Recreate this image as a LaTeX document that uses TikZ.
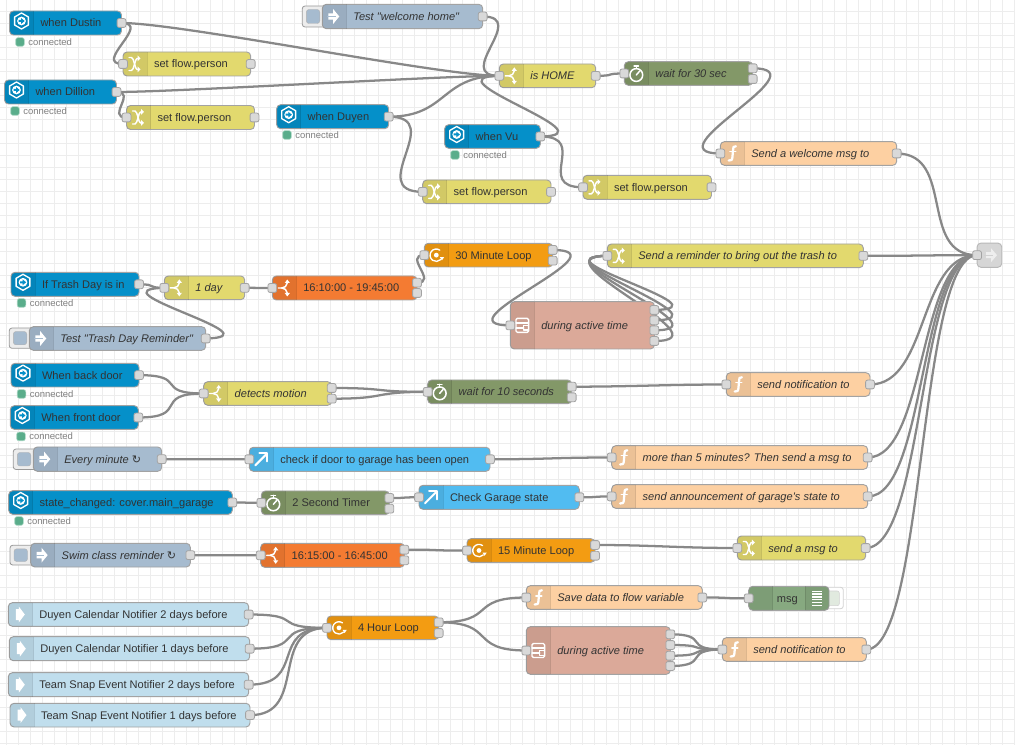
\documentclass[tikz,border=0pt]{standalone}
\usepackage{fontspec}
\newfontfamily\nrfont{Liberation Sans}
\newfontfamily\symf{DejaVu Sans}
\usetikzlibrary{calc}
\pgfdeclarelayer{wires}
\pgfsetlayers{wires,main}
\definecolor{cha}{HTML}{0590C9}
\definecolor{cinj}{HTML}{A6BBCF}
\definecolor{csw}{HTML}{E2D96E}
\definecolor{cfn}{HTML}{FDD0A2}
\definecolor{cdel}{HTML}{839868}
\definecolor{cloop}{HTML}{F39C12}
\definecolor{ctime}{HTML}{F47B32}
\definecolor{chttp}{HTML}{51BCF1}
\definecolor{ccal}{HTML}{C0DEED}
\definecolor{ctpl}{HTML}{DBA999}
\definecolor{cdbg}{HTML}{87A980}
\definecolor{clink}{HTML}{D6D6D6}
\definecolor{cwire}{HTML}{888888}
\definecolor{cdot}{HTML}{5AAD8B}
\definecolor{cdotl}{HTML}{B5DCCB}
\tikzset{
  nrbox/.style={draw=black!36,line width=.7pt,rounded corners=3pt,inner sep=0pt,outer sep=0pt},
  nrtext/.style={inner sep=0pt,outer sep=0pt,text=black!80,text height=6.75pt,text depth=.75pt,font=\nrfont\fontsize{8.3pt}{10pt}\selectfont},
  porty/.style={draw=black!36,fill=black!15,line width=.6pt,rounded corners=1.5pt,minimum width=6.6pt,minimum height=6.6pt,inner sep=0pt,outer sep=0pt},
  wirel/.style={draw=cwire,line width=1.7pt},
  gridl/.style={draw=black!7,line width=.85pt},
  statdot/.style={fill=cdot,draw=cdotl,line width=.4pt,rounded corners=1.5pt,minimum width=6.4pt,minimum height=6.4pt,inner sep=0pt,outer sep=0pt},
  stattext/.style={inner sep=0pt,outer sep=0pt,anchor=west,text=black!50,font=\nrfont\fontsize{7.1pt}{9pt}\selectfont},
  ic/.style={draw=white,line width=1.1pt,line cap=round,line join=round},
  icf/.style={fill=white},
  tabf/.style={fill=black,fill opacity=.07},
  tabl/.style={draw=black,draw opacity=.1,line width=.5pt},
}
% icons (pixel units round the centre of the tab)
\newcommand\iconha{\begin{scope}[yshift=1.5pt]
  \draw[ic,line width=1pt] (0,-8)--(6.9,-4)--(6.9,4)--(0,8)--(-6.9,4)--(-6.9,-4)--cycle;
  \fill[icf] (0,0) circle (4.4);
  \fill[\thecol] (-3,-1)--(-.3,-1)--(-.3,-2.8)--(3.2,0)--(-.3,2.8)--(-.3,1)--(-3,1)--cycle;\end{scope}}
\newcommand\iconinj{\fill[icf] (-6,-3.2)--(-1.2,-3.2)--(-1.2,-7.5)--(5,0)--(-1.2,7.5)--(-1.2,3.2)--(-6,3.2)--cycle;
  \draw[\thecol,line width=.7pt] (-7,0)--(1.5,0);}
\newcommand\iconcal{\fill[icf] (-4.5,-5.5)--(-1.5,-5.5)--(-1.5,-8)--(4.5,0)--(-1.5,8)--(-1.5,5.5)--(-4.5,5.5)--cycle;}
\newcommand\iconsw{\draw[ic] (-6,0)--(-2.5,0) .. controls (0,0) and (3,-2) .. (3,-5);
  \draw[ic] (-2.5,0) .. controls (0,0) and (3,2) .. (3,5);
  \fill[icf] (.4,-5)--(3,-8.5)--(5.6,-5)--cycle;\fill[icf] (.4,5)--(3,8.5)--(5.6,5)--cycle;}
\newcommand\iconch{\draw[ic] (-6,-6.5)--(-3.5,-6.5) .. controls (-1,-6.5) and (0,5.5) .. (2,5.5)--(3,5.5);
  \draw[ic] (-6,6.5)--(-3.5,6.5) .. controls (-1,6.5) and (0,-5.5) .. (2,-5.5)--(3,-5.5);
  \fill[icf] (2.5,-8.5)--(5.5,-5.5)--(2.5,-2.5)--cycle;\fill[icf] (2.5,2.5)--(5.5,5.5)--(2.5,8.5)--cycle;}
\newcommand\icondel{\draw[ic,line width=1.15pt] (0,1.5) circle (6.4);\draw[ic] (-2.2,-7.5)--(2.2,-7.5);\draw[ic] (0,-7.5)--(0,-5);
  \draw[ic] (0,1.5)--(3.5,-2.5);}
\newcommand\iconfn{\draw[ic,line width=1.7pt] (3.6,-7.2) .. controls (1,-8) and (.8,-6) .. (.7,-3)--(.2,3) .. controls (.1,6) and (-1,8) .. (-3.6,7);
  \draw[ic,line width=1.2pt] (-2.4,-1.8)--(3.4,-1.8);}
\newcommand\iconloop{\draw[ic,line width=1pt] (3.5,-5) arc (-55:-315:6.2);\fill[icf] (0,0) circle (2.4);
  \fill[icf] (3.5,2)--(7.8,2)--(5.6,5.3)--cycle;}
\newcommand\icontpl{\draw[ic,line width=1pt,rounded corners=1pt] (-6.3,-7)rectangle(6.3,7);
  \draw[ic,line width=1pt] (-6.3,-2.5)--(6.3,-2.5);\draw[ic,line width=1pt] (-6.3,2.5)--(1.5,2.5);
  \draw[ic,line width=1pt] (1.5,.2)rectangle(6.3,4.8);}
\newcommand\iconhttp{\draw[ic,line width=1.5pt] (-6,6)--(5.5,-5.5);\draw[ic,line width=1.5pt] (-2,-6)--(6,-6)--(6,2);}
\newcommand\icondbg{\foreach \yy in {-7,-4.2,-1.4,1.4,4.2,7}{\draw[white,line width=1pt] (-5,\yy)--(5,\yy);}}
\newcommand\iconlink{\fill[white,opacity=.6] (-4,-3)--(1,-3)--(1,-7)--(7,0)--(1,7)--(1,3)--(-4,3)--cycle;
  \draw[black!18,line width=.7pt] (-6,0)--(3,0);}
\newcommand\iconnone{}
% \NR{id}{x1}{y1}{x2}{y2}{colour}{icon}{text}
\newcommand\NR[8]{%
  \def\thecol{#6}%
  \pgfmathsetmacro\nx{(#2+#4)/2}\pgfmathsetmacro\ny{(#3+#5)/2}\pgfmathsetmacro\nt{#2+24}%
  \node[nrbox,fill=#6,minimum width={(#4-#2)*0.75pt},minimum height={(#5-#3)*0.75pt}] (#1) at (\nx,\ny) {};
  \path[tabf] (\nt,#3) [rounded corners=3pt] -- (#2,#3) -- (#2,#5) [sharp corners] -- (\nt,#5) -- cycle;
  \draw[tabl] (\nt,#3)--(\nt,#5);
  \begin{scope}[shift={(#2+12,\ny)}]\csname icon#7\endcsname\end{scope}
  \node[nrtext,anchor=west] (#1-t) at (#2+31,\ny) {#8};
}
\newcommand\pin[1]{\node[porty] (#1-i) at (#1.west) {};}
\newcommand\pout[1]{\node[porty] (#1-o) at (#1.east) {};}
\newcommand\poutat[3]{\node[porty] (#1-o#2) at (#1.east |- 0,#3) {};}
\newcommand\status[3]{\node[statdot] (#1-d) at (#2,#3) {};\node[stattext] (#1-s) at (#2+8.3,#3) {connected};}
\newcommand\btn[5]{\draw[fill=black!7,draw=black!40,line width=.6pt,rounded corners=2pt] (#1,#2) rectangle (#3,#4);
  \fill[cinj,draw=black!30,line width=.3pt,rounded corners=2pt] (#1+4,#2+3.5) rectangle (#1+17.5,#4-3.5);}
% node-red wire: one cubic curve
\newcommand\wire[2]{\begingroup
  \pgfpointanchor{#1}{center}\pgfgetlastxy{\xa}{\ya}%
  \pgfpointanchor{#2}{center}\pgfgetlastxy{\xb}{\yb}%
  \pgfmathsetmacro\wox{\xa/0.75}\pgfmathsetmacro\woy{-\ya/0.75}%
  \pgfmathsetmacro\wtx{\xb/0.75}\pgfmathsetmacro\wty{-\yb/0.75}%
  \pgfmathsetmacro\wdx{\wtx-\wox}\pgfmathsetmacro\wdy{\wty-\woy}%
  \pgfmathsetmacro\wdel{10*veclen(\wdx/10,\wdy/10)}%
  \def\ww{78.6}\def\wh{23.6}%
  \ifdim\wdx pt>0pt
    \pgfmathsetmacro\wd{0.75*min(\wdel,\ww)}%
    \def\wsy{0}%
  \else
    \pgfmathsetmacro\wd{\ww*(0.75+2*min(5*\ww,abs(\wdx))/(5*\ww))}%
    \pgfmathsetmacro\wsy{(\wdy>0?0.5:-0.5)*max(0,3*\wh-abs(\wdy))/(3*\wh)*min(\ww,abs(\wdx))/\ww*\wh}%
  \fi
  \pgfmathsetmacro\wca{\wox+\wd}\pgfmathsetmacro\wcb{\wtx-\wd}%
  \pgfmathsetmacro\wya{\woy+\wsy}\pgfmathsetmacro\wyb{\wty-\wsy}%
  \begin{pgfonlayer}{wires}\draw[wirel] (#1.center) .. controls (\wca,\wya) and (\wcb,\wyb) .. (#2.center);\end{pgfonlayer}%
  \endgroup}
\begin{document}
\begin{tikzpicture}[x=0.75pt,y=-0.75pt]
\useasboundingbox (0,0) rectangle (1015,745);
\begin{pgfonlayer}{wires}
\fill[white] (0,0) rectangle (1015,745);
\foreach \i in {0,...,84}{\draw[gridl] ({6.7+12*\i},0)--({6.7+12*\i},745);}
\foreach \i in {0,...,62}{\draw[gridl] (0,{-0.7+12*\i})--(1015,{-0.7+12*\i});}
\end{pgfonlayer}

% --- top flow
\NR{dustin}{9.5}{11}{121.5}{35}{cha}{ha}{when Dustin}\pout{dustin}\status{dustin}{20}{42}
\NR{sfa}{123}{52}{250.7}{76}{csw}{ch}{set flow.person}\pin{sfa}\pout{sfa}
\NR{dillion}{4.5}{80}{116.5}{104}{cha}{ha}{when Dillion}\pout{dillion}\status{dillion}{15}{111}
\NR{sfb}{126.5}{105.5}{254.5}{129.5}{csw}{ch}{set flow.person}\pin{sfb}\pout{sfb}
\NR{duyen}{276.7}{104.7}{388.7}{128.7}{cha}{ha}{when Duyen}\pout{duyen}\status{duyen}{287}{135}
\btn{302.3}{6}{326}{27}{}
\NR{testwh}{322.3}{4.3}{482.7}{28.7}{cinj}{inj}{\itshape Test "welcome home"}\pout{testwh}
\NR{ishome}{499.3}{64}{595.7}{87.7}{csw}{sw}{\itshape is HOME}\pin{ishome}\pout{ishome}
\NR{waitA}{624.3}{61.7}{752.7}{85.3}{cdel}{del}{\itshape wait for 30 sec}\pin{waitA}\poutat{waitA}{a}{68.3}\poutat{waitA}{b}{79}
\NR{vu}{444.7}{124.7}{540.3}{148.3}{cha}{ha}{when Vu}\pout{vu}\status{vu}{455}{155}
\NR{sfc}{422.7}{180}{551}{203.7}{csw}{ch}{set flow.person}\pin{sfc}\pout{sfc}
\NR{sfd}{583}{175.3}{711.5}{199.3}{csw}{ch}{set flow.person}\pin{sfd}\pout{sfd}
\NR{welcome}{720.3}{141.7}{896.7}{165.3}{cfn}{fn}{\itshape Send a welcome msg to}\pin{welcome}\pout{welcome}

% --- link out
\node[nrbox,draw=black!28,fill=clink,minimum width={24.7*0.75pt},minimum height={24.3*0.75pt}] (linkout) at (989.4,255.2) {};
\begin{scope}[shift={(990,255.2)}]\iconlink\end{scope}
\pin{linkout}

% --- trash
\NR{trash}{11}{272.3}{139}{296.3}{cha}{ha}{If Trash Day is in}\pout{trash}\status{trash}{21.5}{303}
\NR{oneday}{164.3}{276}{244.7}{299.7}{csw}{sw}{\itshape 1 day}\pin{oneday}\pout{oneday}
\NR{timeA}{272.3}{276}{417}{300}{ctime}{sw}{16:10:00 - 19:45:00}\pin{timeA}\poutat{timeA}{a}{282.7}\poutat{timeA}{b}{293}
\btn{9.3}{328}{34}{348.3}{}
\NR{testtr}{29.3}{326.7}{205.7}{350.3}{cinj}{inj}{\itshape Test "Trash Day Reminder"}\pout{testtr}
\NR{loopA}{424.3}{243.3}{552.7}{267}{cloop}{loop}{30 Minute Loop}\pin{loopA}\poutat{loopA}{a}{250}\poutat{loopA}{b}{260.7}
\NR{activeA}{510.3}{301.7}{654.3}{349}{ctpl}{tpl}{\itshape during active time}\pin{activeA}
\poutat{activeA}{a}{310}\poutat{activeA}{b}{320.3}\poutat{activeA}{c}{330.3}\poutat{activeA}{d}{341}
\NR{remind}{607.3}{244}{863.3}{267.7}{csw}{ch}{\itshape Send a reminder to bring out the trash to}\pin{remind}\pout{remind}

% --- doors
\NR{back}{11}{363.3}{139}{387}{cha}{ha}{When back door}\pout{back}\status{back}{21.5}{394}
\NR{front}{10.3}{405.7}{138.3}{429.3}{cha}{ha}{When front door}\pout{front}\status{front}{21}{436.5}
\NR{detect}{203.7}{381.7}{331.7}{405.3}{csw}{sw}{\itshape detects motion}\pin{detect}\poutat{detect}{a}{388}\poutat{detect}{b}{398.7}
\NR{waitB}{427.7}{380}{571.7}{403.7}{cdel}{del}{\itshape wait for 10 seconds}\pin{waitB}\poutat{waitB}{a}{386.7}\poutat{waitB}{b}{397.3}
\NR{notifA}{726.3}{372.7}{870}{396.3}{cfn}{fn}{\itshape send notification to}\pin{notifA}\pout{notifA}

% --- garage
\btn{13.3}{449}{38}{469.5}{}
\NR{every}{33.3}{447}{161.7}{471.3}{cinj}{inj}{\itshape Every minute {\symf ↻}}\pout{every}
\NR{checkA}{249.3}{447.3}{490}{471.3}{chttp}{http}{check if door to garage has been open}\pin{checkA}\pout{checkA}
\NR{more}{611.7}{445.7}{867.7}{469.3}{cfn}{fn}{\itshape more than 5 minutes? Then send a msg to}\pin{more}\pout{more}
\NR{state}{8.7}{490.7}{232.3}{514.3}{cha}{ha}{state\_changed: cover.main\_garage}\pout{state}\status{state}{19}{521}
\NR{timer}{261.3}{491}{389.3}{514.7}{cdel}{del}{2 Second Timer}\pin{timer}\poutat{timer}{a}{498}\poutat{timer}{b}{508.7}
\NR{checkB}{419}{485.3}{579.3}{509.3}{chttp}{http}{Check Garage state}\pin{checkB}\pout{checkB}
\NR{announce}{611.7}{484.7}{867.7}{508.3}{cfn}{fn}{\itshape send announcement of garage's state to}\pin{announce}\pout{announce}

% --- swim
\btn{10}{545.3}{34}{565}{}
\NR{swim}{30.7}{543.3}{190.3}{567}{cinj}{inj}{\itshape Swim class reminder {\symf ↻}}\pout{swim}
\NR{timeB}{260.7}{543.3}{404.3}{567.3}{ctime}{sw}{16:15:00 - 16:45:00}\pin{timeB}\poutat{timeB}{a}{549.7}\poutat{timeB}{b}{560.3}
\NR{loopB}{467}{538.7}{595}{562.3}{cloop}{loop}{15 Minute Loop}\pin{loopB}\poutat{loopB}{a}{545}\poutat{loopB}{b}{555.7}
\NR{sendmsg}{737.3}{536}{865.7}{560}{csw}{ch}{\itshape send a msg to}\pin{sendmsg}\pout{sendmsg}

% --- calendar
\NR{calA}{8.3}{602.7}{248.7}{626.3}{ccal}{cal}{Duyen Calendar Notifier 2 days before}\pout{calA}
\NR{calB}{9.3}{636.7}{249.7}{660.7}{ccal}{cal}{Duyen Calendar Notifier 1 days before}\pout{calB}
\NR{calC}{8.3}{672.7}{248.7}{696.7}{ccal}{cal}{Team Snap Event Notifier 2 days before}\pout{calC}
\NR{calD}{10}{703.3}{250}{727}{ccal}{cal}{Team Snap Event Notifier 1 days before}\pout{calD}
\NR{loopC}{327}{616}{438.7}{639.7}{cloop}{loop}{4 Hour Loop}\pin{loopC}\poutat{loopC}{a}{622.3}\poutat{loopC}{b}{633}
\NR{save}{526.3}{585.7}{702.3}{609.3}{cfn}{fn}{\itshape Save data to flow variable}\pin{save}\pout{save}
\draw[fill=white,draw=black!18,line width=.6pt,rounded corners=2pt] (822,587.3) rectangle (843.3,608.7);
\fill[cdbg!25,draw=black!18,line width=.4pt,rounded corners=1.5pt] (825,591) rectangle (839.3,605.7);
\NR{msg}{748.7}{586.3}{829}{610.3}{cdbg}{none}{}
\path[tabf] (805,586.3) [rounded corners=3pt] -- (829,586.3) -- (829,610.3) [sharp corners] -- (805,610.3) -- cycle;
\draw[tabl] (805,586.3)--(805,610.3);
\begin{scope}[shift={(817,598.3)}]\icondbg\end{scope}
\node[nrtext,anchor=east] (msg-l) at (797.7,598.3) {msg};
\pin{msg}
\NR{activeB}{526.3}{626.7}{670.3}{674.3}{ctpl}{tpl}{\itshape during active time}\pin{activeB}
\poutat{activeB}{a}{634.3}\poutat{activeB}{b}{645}\poutat{activeB}{c}{655.7}\poutat{activeB}{d}{666}
\NR{notifB}{722.3}{637.7}{866.3}{661.3}{cfn}{fn}{\itshape send notification to}\pin{notifB}\pout{notifB}

% --- wires
\wire{dustin-o}{ishome-i}\wire{dustin-o}{sfa-i}
\wire{dillion-o}{ishome-i}\wire{dillion-o}{sfb-i}
\wire{duyen-o}{ishome-i}\wire{duyen-o}{sfc-i}
\wire{vu-o}{ishome-i}\wire{vu-o}{sfd-i}
\wire{testwh-o}{ishome-i}
\wire{ishome-o}{waitA-i}
\wire{waitA-oa}{welcome-i}
\wire{welcome-o}{linkout-i}
\wire{trash-o}{oneday-i}\wire{testtr-o}{oneday-i}
\wire{oneday-o}{timeA-i}
\wire{timeA-oa}{loopA-i}
\wire{loopA-oa}{activeA-i}
\wire{activeA-oa}{remind-i}\wire{activeA-ob}{remind-i}\wire{activeA-oc}{remind-i}\wire{activeA-od}{remind-i}
\wire{remind-o}{linkout-i}
\wire{back-o}{detect-i}\wire{front-o}{detect-i}
\wire{detect-oa}{waitB-i}\wire{detect-ob}{waitB-i}
\wire{waitB-oa}{notifA-i}
\wire{notifA-o}{linkout-i}
\wire{every-o}{checkA-i}
\wire{checkA-o}{more-i}
\wire{more-o}{linkout-i}
\wire{state-o}{timer-i}
\wire{timer-oa}{checkB-i}
\wire{checkB-o}{announce-i}
\wire{announce-o}{linkout-i}
\wire{swim-o}{timeB-i}
\wire{timeB-oa}{loopB-i}
\wire{loopB-oa}{sendmsg-i}
\wire{sendmsg-o}{linkout-i}
\wire{calA-o}{loopC-i}\wire{calB-o}{loopC-i}\wire{calC-o}{loopC-i}\wire{calD-o}{loopC-i}
\wire{loopC-oa}{save-i}\wire{loopC-oa}{activeB-i}
\wire{save-o}{msg-i}
\wire{activeB-oa}{notifB-i}\wire{activeB-ob}{notifB-i}\wire{activeB-oc}{notifB-i}\wire{activeB-od}{notifB-i}
\wire{notifB-o}{linkout-i}
\end{tikzpicture}
\end{document}
